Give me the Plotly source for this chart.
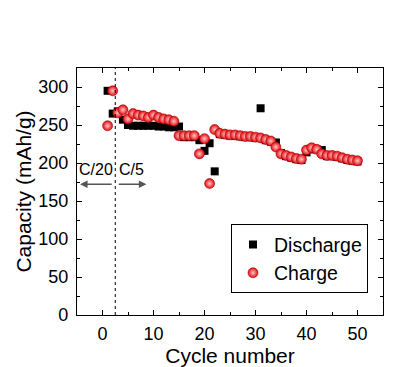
import plotly.graph_objects as go

cycles = list(range(1, 51))
charge = [249, 295, 266, 270, 258, 265, 263, 262, 260, 263,
          260, 258, 257, 255, 236, 236, 236, 236, 212, 232,
          173, 244, 239, 238, 237, 237, 236, 235, 235, 234,
          233, 231, 229, 221, 212, 210, 208, 206, 205, 217,
          220, 218, 212, 210, 210, 209, 207, 205, 204, 203]
discharge = [295, 265, 268, 257, 250, 249, 249, 249, 249, 249,
             248, 248, 247, 247, 248, 234, 234, 234, 230, 216,
             226, 189, 238, 237, 236, 236, 235, 234, 234, 233,
             272, 230, 228, 227, 213, 209, 207, 205, 204, 214,
             218, 218, 217, 209, 209, 208, 206, 204, 203, 202]

rate_split = 2.5
rate_labels = ["C/20", "C/5"]

FONT = "Liberation Sans, Arial, sans-serif"

fig = go.Figure()
fig.add_trace(go.Scatter(
    x=cycles, y=discharge, mode="markers", name="Discharge",
    marker=dict(symbol="square", size=8, color="black", line=dict(width=0)),
))
fig.add_trace(go.Scatter(
    x=cycles, y=charge, mode="markers", name="Charge",
    marker=dict(symbol="circle", size=10, color="#e8060c",
                gradient=dict(type="radial", color="#ffc8c8"),
                line=dict(width=0.6, color="#9e0a0c")),
))

# dashed vertical separator
fig.add_shape(type="line", x0=rate_split, x1=rate_split, y0=0, y1=1,
              xref="x", yref="paper",
              line=dict(color="black", width=1, dash="dot"))

# arrows
arrow_y = 172
fig.add_annotation(x=-4.4, y=arrow_y, ax=2.1, ay=arrow_y, xref="x", yref="y",
                   axref="x", ayref="y", showarrow=True, arrowhead=2,
                   arrowsize=1, arrowwidth=1.5, arrowcolor="#555555", text="")
fig.add_annotation(x=8.6, y=arrow_y, ax=2.9, ay=arrow_y, xref="x", yref="y",
                   axref="x", ayref="y", showarrow=True, arrowhead=2,
                   arrowsize=1, arrowwidth=1.5, arrowcolor="#555555", text="")
fig.add_annotation(x=-1.3, y=191, xref="x", yref="y", text=rate_labels[0],
                   showarrow=False, font=dict(family=FONT, size=16, color="black"))
fig.add_annotation(x=5.7, y=191, xref="x", yref="y", text=rate_labels[1],
                   showarrow=False, font=dict(family=FONT, size=16, color="black"))

axis_common = dict(
    showline=True, linecolor="black", linewidth=1.2, mirror="ticks",
    ticks="inside", ticklen=5, tickwidth=1, tickcolor="black",
    showgrid=False, zeroline=False, automargin=False,
    tickfont=dict(family=FONT, size=18, color="black"),
)

fig.update_xaxes(range=[-5, 55], tickvals=[0, 10, 20, 30, 40, 50],
                 minor=dict(ticks="inside", ticklen=3, tickvals=[-5, 5, 15, 25, 35, 45, 55], tickcolor="black"),
                 title=dict(text="Cycle number", font=dict(family=FONT, size=21, color="black"), standoff=1),
                 ticklabelstandoff=2,
                 **axis_common)
fig.update_yaxes(range=[0, 325], tickvals=[0, 50, 100, 150, 200, 250, 300],
                 minor=dict(ticks="inside", ticklen=3, tickvals=[25, 75, 125, 175, 225, 275, 325], tickcolor="black"),
                 title=dict(text="Capacity (mAh/g)", font=dict(family=FONT, size=21, color="black"), standoff=0),
                 ticklabelstandoff=4,
                 **axis_common)

fig.update_layout(
    width=410, height=367,
    margin=dict(l=77, r=27, t=68, b=52),
    paper_bgcolor="white", plot_bgcolor="white",
    font=dict(family=FONT, color="black"),
    showlegend=True,
    legend=dict(x=0.951, y=0.088, xanchor="right", yanchor="bottom",
                bordercolor="black", borderwidth=1, bgcolor="white",
                font=dict(family=FONT, size=19.5, color="black"),
                itemwidth=32, tracegroupgap=0),
)

fig.write_html("out.html",
               config={"displayModeBar": False},
               post_script="document.body.style.margin='0';document.body.style.padding='0';")
